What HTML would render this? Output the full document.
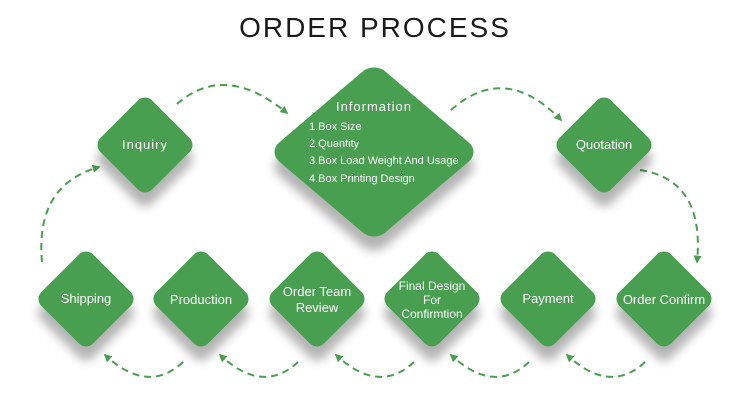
<!DOCTYPE html>
<html><head><meta charset="utf-8"><style>
html,body{margin:0;padding:0;background:#fff;}
svg{display:block;}
text{font-family:"Liberation Sans",sans-serif;fill:#fff;}
</style></head><body>
<svg width="750" height="408" viewBox="0 0 750 408" xmlns="http://www.w3.org/2000/svg">
<defs>
<filter id="sh" x="-50%" y="-50%" width="200%" height="200%">
<feGaussianBlur in="SourceAlpha" stdDeviation="5"/>
<feOffset dy="14" result="b"/>
<feComponentTransfer><feFuncA type="linear" slope="0.3"/></feComponentTransfer>
<feMerge><feMergeNode/><feMergeNode in="SourceGraphic"/></feMerge>
</filter>
<marker id="ar" viewBox="0 0 10 10" refX="8" refY="5" markerWidth="4" markerHeight="4" orient="auto"><path d="M0,0 L10,5 L0,10 z" fill="#4a9e50"/></marker>
<g id="d"><rect x="-36.5" y="-36.5" width="73" height="73" rx="10" transform="rotate(45)" fill="#479f4f"/></g>
</defs>
<text x="375" y="37" text-anchor="middle" style="fill:#1a1a1a;font-size:28px;letter-spacing:2px">ORDER PROCESS</text>

<g fill="none" stroke="#4a9e50" stroke-width="2" stroke-dasharray="7,5" marker-end="url(#ar)">
<path d="M177,104 Q225,62 287,113"/>
<path d="M451,110 Q505,62 561,120"/>
<path d="M640,170 Q705,180 697,262"/>
<path d="M42,262 Q35,185 99,167"/>
<path d="M645,362 Q610,395 567,355"/>
<path d="M529,362 Q494,395 451,355"/>
<path d="M414,362 Q379,395 336,355"/>
<path d="M298,362 Q263,395 220,355"/>
<path d="M183,362 Q148,395 105,355"/>
</g>

<g filter="url(#sh)">
<use href="#d" transform="translate(145,145)"/>
<use href="#d" transform="translate(604,145)"/>
<rect x="-75" y="-75" width="150" height="150" rx="16" fill="#479f4f" transform="translate(374,152) scale(1,0.85) rotate(45)"/>
<use href="#d" transform="translate(86,299)"/>
<use href="#d" transform="translate(201,299)"/>
<use href="#d" transform="translate(317,299)"/>
<use href="#d" transform="translate(432,299)"/>
<use href="#d" transform="translate(548,299)"/>
<use href="#d" transform="translate(664,299)"/>
</g>

<g font-size="13" text-anchor="middle">
<text x="145" y="149" style="letter-spacing:1px">Inquiry</text>
<text x="604" y="149">Quotation</text>
<text x="86" y="303">Shipping</text>
<text x="201" y="304">Production</text>
<text x="317" y="296">Order Team</text>
<text x="317" y="312">Review</text>
<text x="432" y="290" font-size="12">Final Design</text>
<text x="432" y="304" font-size="12">For</text>
<text x="432" y="318" font-size="12">Confirmtion</text>
<text x="548" y="303">Payment</text>
<text x="664" y="304">Order Confirm</text>
<text x="374" y="111" style="letter-spacing:1px">Information</text>
</g>
<g font-size="11">
<text x="309" y="130">1.Box Size</text>
<text x="309" y="147">2.Quantity</text>
<text x="309" y="164">3.Box Load Weight And Usage</text>
<text x="309" y="182">4.Box Printing Design</text>
</g>
</svg>
</body></html>
